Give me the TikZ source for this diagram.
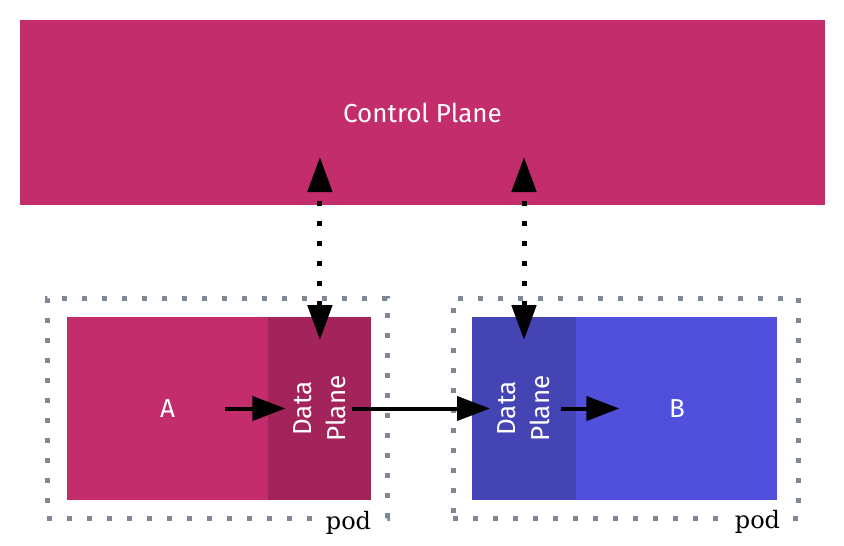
\documentclass[tikz,border=0pt]{standalone}
\usepackage{fontspec}
\setmainfont{Fira Sans}
\newfontfamily\podfont{DejaVu Serif}
\usetikzlibrary{positioning, arrows.meta}

\definecolor{cpRed}{RGB}{196,45,108}
\definecolor{dpRed}{RGB}{163,36,90}
\definecolor{dpBlue}{RGB}{68,68,180}
\definecolor{appBlue}{RGB}{80,80,221}
\definecolor{podGray}{RGB}{125,135,150}

\begin{document}
\begin{tikzpicture}[x=1pt, y=-1pt,
		every node/.style={font=\fontsize{26}{34}\selectfont},
		box/.style={rectangle, inner sep=0pt, text=white, minimum height=183pt},
		podbox/.style={draw=podGray, line width=5pt, dash pattern=on 5pt off 15pt, minimum height=220pt, inner sep=0pt},
		podlabel/.style={fill=white, inner sep=2pt, font=\podfont\fontsize{24}{28}\selectfont},
		flow/.style={line width=4pt, -{Triangle[length=33pt, width=24pt]}},
		link/.style={line width=5pt, dash pattern=on 5pt off 15pt, {Triangle[length=35pt, width=24pt]}-{Triangle[length=35pt, width=24pt]}}
	]
		\def\appW{201pt};
		\def\dpW{103pt};

		\useasboundingbox (0,0) rectangle (844,546);

		% control plane
		\node[box, fill=cpRed, minimum width=805pt, minimum height=185pt] (cp) at (422.5,112.5) {Control Plane};

		% pod A
		\begin{scope}
			\node[podbox, minimum width=340pt] (podA) at (217,408) {};
			\node[box, fill=cpRed, minimum width=\appW] (boxA) at (167.5,408.5) {A};
			\node[box, fill=dpRed, minimum width=\dpW, right=0pt of boxA] (dpA) {};
			\node[text=white, rotate=90, align=center] (txtA) at (dpA.center) {Data\\Plane};
			\node[podlabel] (podlabA) at ([xshift=-41pt, yshift=-2pt]podA.south east) {pod};
		\end{scope}

		% pod B
		\begin{scope}
			\node[podbox, minimum width=345pt] (podB) at (625.5,408) {};
			\node[box, fill=dpBlue, minimum width=104pt] (dpB) at (524,408.5) {};
			\node[box, fill=appBlue, minimum width=\appW, right=0pt of dpB] (boxB) {B};
			\node[text=white, rotate=90, align=center] (txtB) at (dpB.center) {Data\\Plane};
			\node[podlabel] (podlabB) at ([xshift=-43pt, yshift=-1pt]podB.south east) {pod};
		\end{scope}

		% traffic
		\draw[flow, shorten <=57.5pt, shorten >=34.5pt] (boxA.center) -- (txtA.center);
		\draw[flow, shorten <=32.5pt, shorten >=34pt] (txtA.center) -- (txtB.center);
		\draw[flow, shorten <=37pt, shorten >=57.5pt] (txtB.center) -- (boxB.center);

		% control links
		\draw[link, shorten <=68.5pt, shorten >=44.5pt] (txtA.center) -- (txtA.center |- cp.center);
		\draw[link, shorten <=68.5pt, shorten >=44.5pt] (txtB.center) -- (txtB.center |- cp.center);
	\end{tikzpicture}
\end{document}
